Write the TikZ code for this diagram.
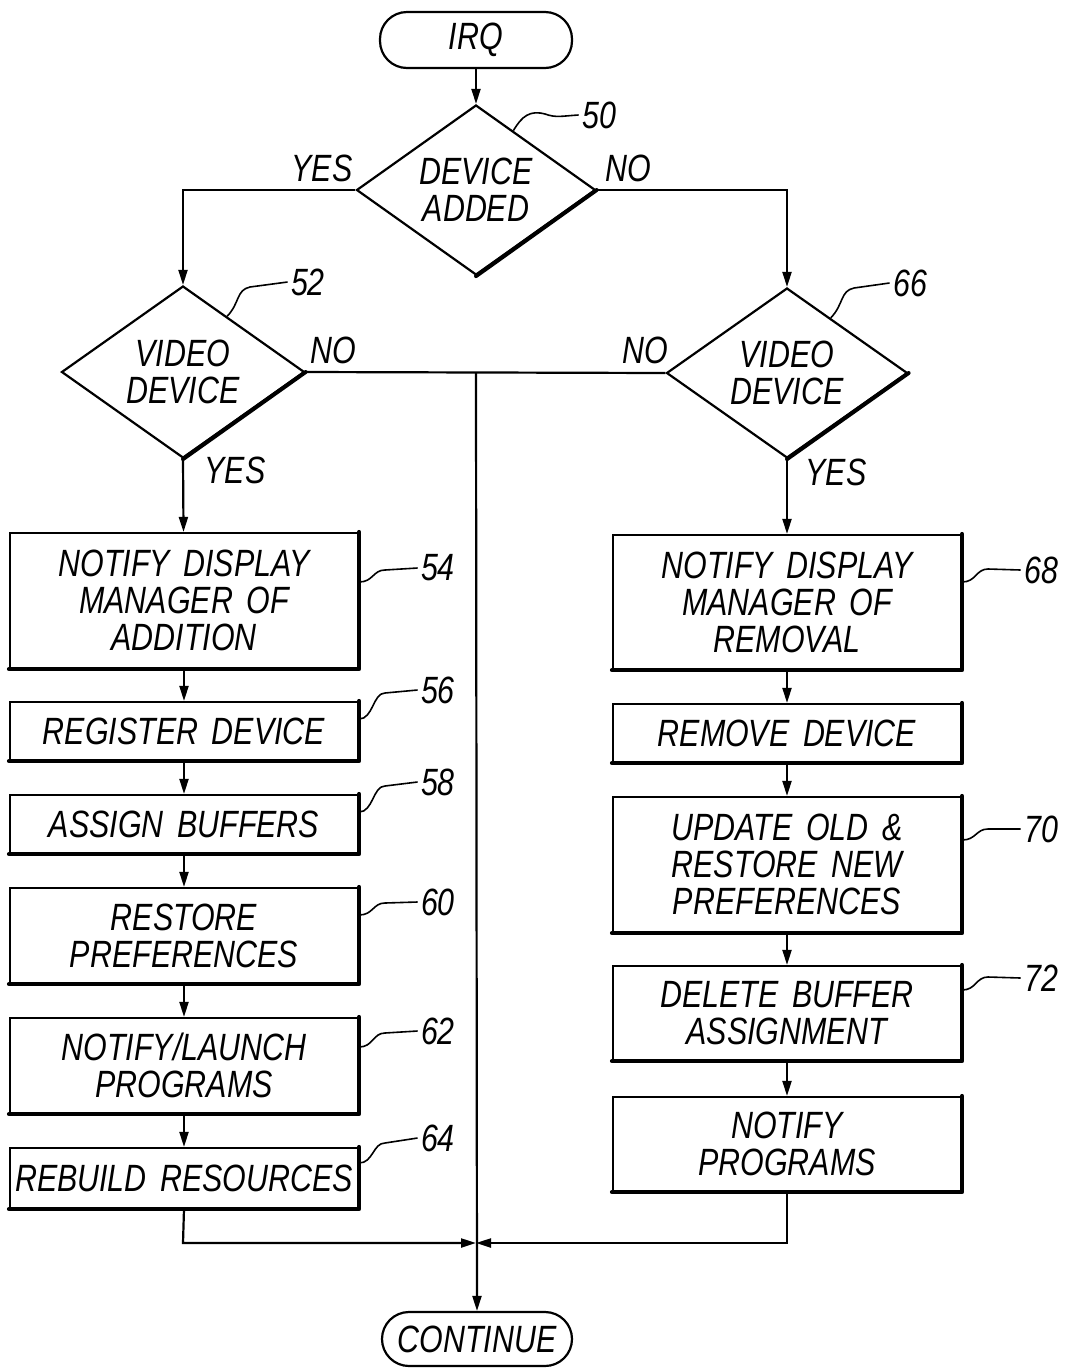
\documentclass[tikz,border=0pt]{standalone}
\usepackage{fontspec}
\setmainfont{Liberation Sans}[FakeStretch=0.8,WordSpace=1.6]
\usetikzlibrary{shapes.geometric,arrows.meta,calc}
\newcommand\dfont{\fontsize{38}{37}\selectfont\itshape}
\begin{document}
\begin{tikzpicture}[x=1pt,y=-1pt,
  every node/.style={font=\dfont},
  box/.style={draw, line width=2.2pt, minimum width=348pt, inner sep=0pt, align=center},
  dec/.style={diamond, aspect=1.4, draw, line width=2.2pt, inner sep=0pt, align=center, minimum width=241pt, minimum height=171pt},
  term/.style={draw, rounded corners=27pt, line width=2.2pt, minimum width=192pt, minimum height=56pt, inner sep=0pt},
  ln/.style={line width=2.2pt},
  arr/.style={line width=2.2pt, -{Triangle[length=15pt,width=9pt]}},
  thick edge/.style={line width=4pt, line cap=round, line join=round},
  lead/.style={line width=1.6pt}]
\useasboundingbox[fill=white] (0,0) rectangle (1072,1369);

% terminals
\node[term] (irq) at (476,40) {IRQ};
\node[term, minimum width=190pt, minimum height=54pt] (cont) at (477,1339) {CONTINUE};

% decisions
\node[dec, minimum width=239pt, minimum height=170pt] (d50) at (476,190) {DEVICE\\ADDED};
\node[dec, minimum width=243pt, minimum height=172pt] (d52) at (183,372) {VIDEO\\DEVICE};
\node[dec, minimum width=241pt, minimum height=170pt] (d66) at (787,373) {VIDEO\\DEVICE};

% left boxes
\node[box, minimum height=135pt] (b54) at (184,600.5) {NOTIFY DISPLAY\\MANAGER OF\\ADDITION};
\node[box, minimum height=58pt]  (b56) at (184,731) {REGISTER DEVICE};
\node[box, minimum height=58pt]  (b58) at (184,824) {ASSIGN BUFFERS};
\node[box, minimum height=95pt]  (b60) at (184,935.5) {RESTORE\\PREFERENCES};
\node[box, minimum height=95pt]  (b62) at (184,1065.5) {NOTIFY/LAUNCH\\PROGRAMS};
\node[box, minimum height=60pt]  (b64) at (184,1178) {REBUILD RESOURCES};

% right boxes
\node[box, minimum height=134pt] (b68) at (787,602) {NOTIFY DISPLAY\\MANAGER OF\\REMOVAL};
\node[box, minimum height=58pt]  (brm) at (787,733) {REMOVE DEVICE};
\node[box, minimum height=135pt] (b70) at (787,864.5) {UPDATE OLD \&\\RESTORE NEW\\PREFERENCES};
\node[box, minimum height=94pt]  (b72) at (787,1013) {DELETE BUFFER\\ASSIGNMENT};
\node[box, minimum height=94pt]  (bnp) at (787,1144) {NOTIFY\\PROGRAMS};

% heavy lower/right edges
\foreach \n in {b54,b56,b58,b60,b62,b64,b68,brm,b70,b72,bnp}
  \draw[thick edge] (\n.north east) -- (\n.south east) -- (\n.south west);
\foreach \n in {d50,d52,d66}
  \draw[thick edge] (\n.east) -- (\n.south);

% connectors
\coordinate (jl) at (183,190);
\coordinate (jr) at (787,190);
\coordinate (jm) at (476,372);
\coordinate (jb) at (476,1243);
\coordinate (cl) at (183,1243);
\coordinate (cr) at (787,1243);

\draw[arr] (irq) -- (d50);
\draw[arr] (d50.west) -- (jl) -- (d52.north);
\draw[arr] (d50.east) -- (jr) -- (d66.north);
\draw[ln] (d52.east) -- (d66.west);
\draw[arr] (jm) -- (cont.north);
\draw[arr] (d52.south) -- (b54);
\draw[arr] (b54) -- (b56);
\draw[arr] (b56) -- (b58);
\draw[arr] (b58) -- (b60);
\draw[arr] (b60) -- (b62);
\draw[arr] (b62) -- (b64);
\draw[arr] (d66.south) -- (b68);
\draw[arr] (b68) -- (brm);
\draw[arr] (brm) -- (b70);
\draw[arr] (b70) -- (b72);
\draw[arr] (b72) -- (bnp);
\draw[arr] (b64.south) -- (cl) -- (jb);
\draw[arr] (bnp.south) -- (cr) -- (jb);

% branch labels
\node (y50) at (322,168) {YES};
\node (n50) at (628,168) {NO};
\node (n52) at (333,350) {NO};
\node (y52) at (235,470) {YES};
\node (n66) at (645,350) {NO};
\node (y66) at (836,472) {YES};

% reference numerals with leaders
\node (r50) at (599,115) {50};
\draw[lead] ($(d50.north)!0.31!(d50.east)$) .. controls (522,116) and (530,110) .. (545,114) .. controls (556,118) and (562,116) .. (r50.west);
\node (r52) at (308,282) {52};
\draw[lead] ($(d52.north)!0.36!(d52.east)$) .. controls (240,303) and (236,290) .. (250,287) -- (r52.west);
\node (r66) at (910,283) {66};
\draw[lead] ($(d66.north)!0.36!(d66.east)$) .. controls (844,304) and (840,291) .. (854,288) -- (r66.west);

\node (r54) at (438,568) {54};
\node (r56) at (438,690) {56};
\node (r58) at (438,782) {58};
\node (r60) at (438,902) {60};
\node (r62) at (438,1031) {62};
\node (r64) at (438,1138) {64};
\node (r68) at (1041,570) {68};
\node (r70) at (1041,829) {70};
\node (r72) at (1041,978) {72};

\draw[lead] ([yshift=18.5pt]b54.east) .. controls +(14,0) and +(-12,0) .. (385,570) -- (r54.west);
\draw[lead] ([yshift=12pt]b56.east)   .. controls +(14,0) and +(-12,0) .. (385,693) -- (r56.west);
\draw[lead] ([yshift=12pt]b58.east)   .. controls +(14,0) and +(-12,0) .. (385,786) -- (r58.west);
\draw[lead] ([yshift=20.5pt]b60.east) .. controls +(14,0) and +(-12,0) .. (385,903) -- (r60.west);
\draw[lead] ([yshift=18.5pt]b62.east) .. controls +(14,0) and +(-12,0) .. (385,1033) -- (r62.west);
\draw[lead] ([yshift=15pt]b64.east)   .. controls +(14,0) and +(-12,0) .. (385,1143) -- (r64.west);
\draw[lead] ([yshift=20pt]b68.east)   .. controls +(14,0) and +(-12,0) .. (988,569) -- (r68.west);
\draw[lead] ([yshift=24.5pt]b70.east) .. controls +(14,0) and +(-12,0) .. (988,829) -- (r70.west);
\draw[lead] ([yshift=23pt]b72.east)   .. controls +(14,0) and +(-12,0) .. (988,977) -- (r72.west);
\end{tikzpicture}
\end{document}
